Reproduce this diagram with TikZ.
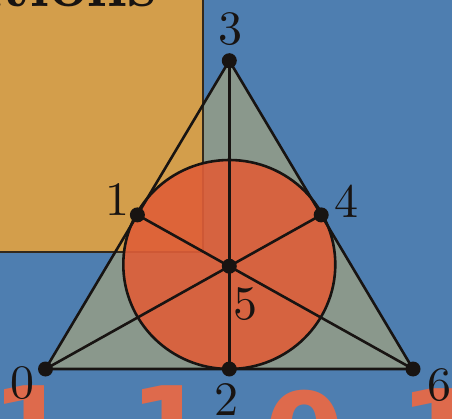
\documentclass[tikz,border=0pt]{standalone}
\usepackage{fontspec}
\newfontfamily\bitfont{DejaVu Sans}
\newfontfamily\lblfont{lmroman10-regular}[Extension=.otf]
\newfontfamily\ttlfont{lmroman10-bold}[Extension=.otf]
\definecolor{bgblue}{RGB}{78,126,176}
\definecolor{orng}{RGB}{211,158,75}
\definecolor{trigray}{RGB}{138,152,140}
\definecolor{circred}{RGB}{223,94,56}
\definecolor{bitred}{RGB}{222,106,76}
\definecolor{inkcol}{RGB}{24,20,18}
\begin{document}
\begin{tikzpicture}[x=1pt,y=-1pt,
  dot/.style={circle,fill=inkcol,inner sep=0pt,minimum size=15pt},
  lbl/.style={inner sep=0pt,text=inkcol,font=\lblfont\fontsize{48}{48}\selectfont},
  bit/.style={inner sep=0pt,text=bitred,font=\bitfont\bfseries\fontsize{115}{115}\selectfont},
  edgeline/.style={line width=2.6pt,draw=inkcol,line join=round}]
\useasboundingbox (0,0) rectangle (452,419);
\fill[bgblue] (0,0) rectangle (452,419);
% points
\coordinate (c0) at (45.5,369);
\coordinate (c6) at (413,369);
\coordinate (c3) at (229.3,60.7);
\coordinate (c2) at (229.3,369);
\coordinate (c1) at (137.4,214.9);
\coordinate (c4) at (321.2,214.9);
\coordinate (c5) at (229.3,266.2);
\coordinate (cc) at (229.3,264.5);
% triangle fill
\fill[trigray] (c0) -- (c3) -- (c6) -- cycle;
% orange panel
\fill[orng] (-2,-2) rectangle (203,252);
\draw[line width=1.6pt,inkcol!85!orng] (203,-2) -- (203,252) -- (-2,252);
% title fragment
\node[anchor=base east,inner sep=0pt,text=inkcol,font=\ttlfont\fontsize{64}{64}\selectfont] (title) at (157,7) {ations};
% big bits
\node[bit,anchor=north] (b1) at (32,385) {1};
\node[bit,anchor=north] (b2) at (170,385) {1};
\node[bit,anchor=north] (b3) at (305,390) {0};
\node[bit,anchor=north] (b4) at (440,388) {1};
% incircle
\draw[edgeline,fill=circred,fill opacity=0.9] (cc) ellipse [x radius=106, y radius=104.5];
% dots
\foreach \i in {0,...,6} {\node[dot] (p\i) at (c\i) {};}
% lines
\draw[edgeline] (p0.center) -- (p3.center) -- (p6.center) -- cycle;
\draw[edgeline] (p3.center) -- (p2.center);
\draw[edgeline] (p0.center) -- (p4.center);
\draw[edgeline] (p6.center) -- (p1.center);
% labels
\node[lbl] (l3) at (230,29) {3};
\node[lbl] (l1) at (117,200) {1};
\node[lbl] (l4) at (346,201) {4};
\node[lbl] (l5) at (245,304) {5};
\node[lbl] (l0) at (22,383) {0};
\node[lbl] (l2) at (226,400) {2};
\node[lbl] (l6) at (439,385) {6};
\end{tikzpicture}
\end{document}
